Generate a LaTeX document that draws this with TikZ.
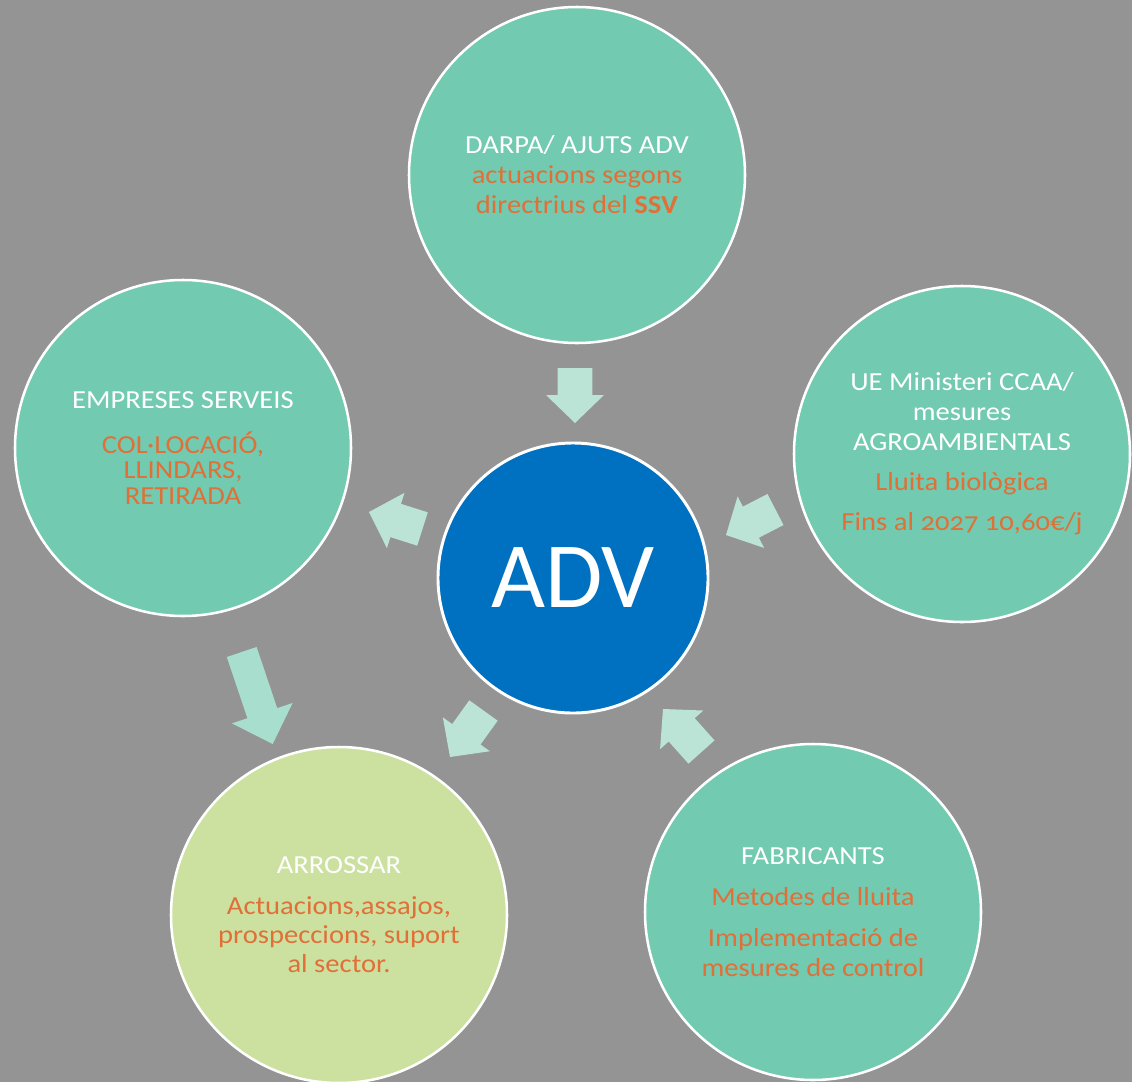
\documentclass[tikz,border=0pt]{standalone}
\usepackage{fontspec}
\setmainfont{Carlito}[FakeStretch=1.1]
\newfontfamily\advfont{Carlito}
\usetikzlibrary{calc}
\definecolor{bg}{HTML}{949494}
\definecolor{circteal}{HTML}{72CAB0}
\definecolor{circgreen}{HTML}{CCE0A0}
\definecolor{advblue}{HTML}{0070C0}
\definecolor{txtorange}{HTML}{E07038}
\definecolor{arrowlight}{HTML}{BCE4D6}
\definecolor{arrowdark}{HTML}{A8DECE}
\newcommand\blockarrow[6]{% #1 style, #2 tail, #3 tip, #4 shaft half, #5 head half, #6 head length
  \coordinate (hb) at ($(#3)!#6!(#2)$);
  \fill[#1] ($(#2)!#4!90:(#3)$) -- ($(hb)!#4!90:(#3)$) -- ($(hb)!#5!90:(#3)$) -- (#3)
    -- ($(hb)!#5!-90:(#3)$) -- ($(hb)!#4!-90:(#3)$) -- ($(#2)!#4!-90:(#3)$) -- cycle;
}
\begin{document}
\begin{tikzpicture}[x=0.75pt,y=-0.75pt,
  bubble/.style={circle,draw=white,line width=1.9pt,fill=circteal,minimum size=252pt,
    inner sep=0pt,align=center,text=txtorange},
  smallarrow/.style={fill=arrowlight},
  bigarrow/.style={fill=arrowdark}]
\fill[bg] (0,0) rectangle (1132,1082);
\useasboundingbox (0,0) rectangle (1132,1082);

\node[bubble,font=\fontsize{19.5}{22.5}\selectfont] (darpa) at (577,175)
  {\textcolor{white}{DARPA/ AJUTS ADV}\\actuacions segons\\directrius del \textbf{SSV}};
\node[bubble,font=\fontsize{19.5}{22.5}\selectfont] (ue) at (962,454)
  {\textcolor{white}{UE Ministeri CCAA/}\\\textcolor{white}{mesures}\\\textcolor{white}{AGROAMBIENTALS}\\[7.5pt]Lluita biològica\\[7.5pt]Fins al {\addfontfeatures{Numbers=OldStyle}2027 10,60}€/j};
\node[bubble,font=\fontsize{19.5}{19}\selectfont] (emp) at (183,448)
  {\textcolor{white}{EMPRESES SERVEIS}\\[14.75pt]COL·LOCACIÓ,\\LLINDARS,\\RETIRADA};
\node[bubble,font=\fontsize{19.5}{22.5}\selectfont] (fab) at (813,912)
  {\textcolor{white}{FABRICANTS}\\[8.25pt]Metodes de lluita\\[8.25pt]Implementació de\\mesures de control};
\node[bubble,fill=circgreen,font=\fontsize{19.5}{21.75}\selectfont] (arr) at (339,915)
  {\textcolor{white}{ARROSSAR}\\[9pt]Actuacions,assajos,\\prospeccions, suport\\al sector.};
\node[circle,draw=white,line width=2.2pt,fill=advblue,minimum size=202.5pt,inner sep=0pt,
  text=white,font=\advfont\fontsize{70}{84}\selectfont] (adv) at (573,578) {ADV};

\coordinate (a1t) at (575,368);   \coordinate (a1h) at (575,423);
\coordinate (a2t) at (422.5,529); \coordinate (a2h) at (369,512);
\coordinate (a3t) at (775.5,509.5); \coordinate (a3h) at (726,535);
\coordinate (a4t) at (483.5,710.5); \coordinate (a4h) at (450,757);
\coordinate (a5t) at (701.5,752); \coordinate (a5h) at (663,709);
\coordinate (a6t) at (241.7,652); \coordinate (a6h) at (272.7,744);

\blockarrow{smallarrow}{a1t}{a1h}{13.1pt}{21.75pt}{21pt}
\blockarrow{smallarrow}{a2t}{a2h}{13.1pt}{21.75pt}{21pt}
\blockarrow{smallarrow}{a3t}{a3h}{13.1pt}{21.75pt}{21pt}
\blockarrow{smallarrow}{a4t}{a4h}{13.1pt}{21.75pt}{21pt}
\blockarrow{smallarrow}{a5t}{a5h}{13.1pt}{21.75pt}{21pt}
\blockarrow{bigarrow}{a6t}{a6h}{11.8pt}{24pt}{24.4pt}
\end{tikzpicture}
\end{document}
